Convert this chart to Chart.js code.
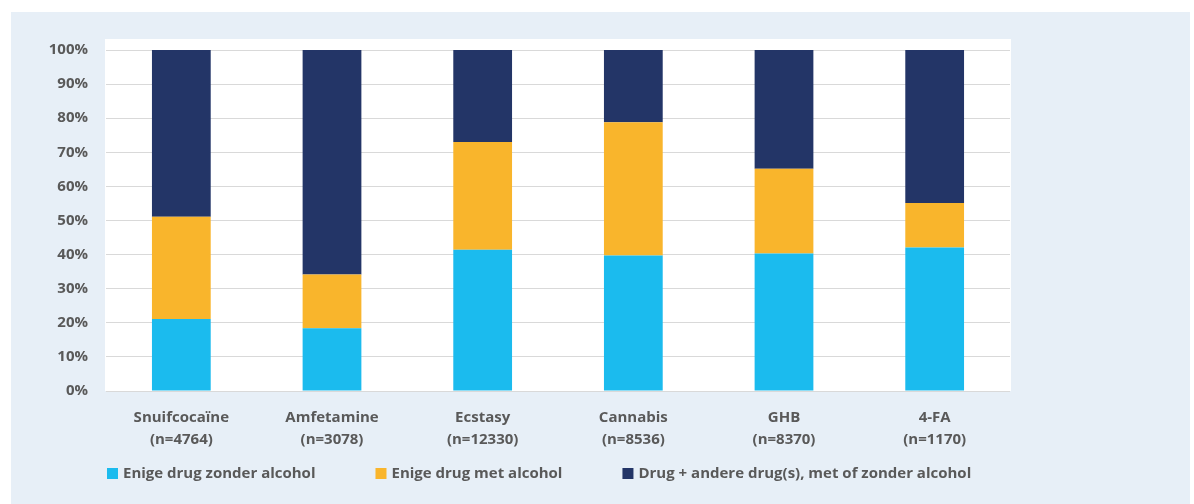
<!DOCTYPE html>
<html>
<head>
<meta charset="utf-8">
<script src="https://cdn.jsdelivr.net/npm/chart.js@4"></script>
<style>
  html, body { margin: 0; padding: 0; background: #fff; }
  #wrap { width: 1194px; height: 504px; }
</style>
</head>
<body>
<div id="wrap"><canvas id="drugChart" width="1194" height="504"></canvas></div>
<script>
var categories = [
    ['Snuifcocaïne', '(n=4764)'],
    ['Amfetamine', '(n=3078)'],
    ['Ecstasy', '(n=12330)'],
    ['Cannabis', '(n=8536)'],
    ['GHB', '(n=8370)'],
    ['4-FA', '(n=1170)']
];
var seriesNames = [
    'Enige drug zonder alcohol',
    'Enige drug met alcohol',
    'Drug + andere drug(s), met of zonder alcohol'
];
var zonderAlcohol = [21.1, 18.4, 41.4, 39.7, 40.3, 42.1];
var metAlcohol    = [30.0, 15.8, 31.6, 39.1, 24.9, 13.0];
var andereDrugs   = [48.9, 65.8, 27.0, 21.2, 34.8, 44.9];
var yTicks = [0, 10, 20, 30, 40, 50, 60, 70, 80, 90, 100];

var colors = ['#1bbbee', '#f9b52c', '#233567'];
var textColor = '#595959';
var fontFamily = '"Open Sans", Lato, sans-serif';

// panel background and white plot box
var panelPlugin = {
    id: 'panel',
    beforeDraw: function (chart) {
        var ctx = chart.ctx;
        var a = chart.chartArea;
        ctx.save();
        ctx.fillStyle = '#ffffff';
        ctx.fillRect(0, 0, chart.width, chart.height);
        ctx.fillStyle = '#e7eff7';
        ctx.fillRect(11, 12, 1179, chart.height - 12);
        ctx.fillStyle = '#ffffff';
        ctx.fillRect(a.left - 1, a.top - 11, a.right - a.left + 2, a.bottom - a.top + 11);
        ctx.restore();
    }
};

// legend row under the axis labels
var legendPlugin = {
    id: 'rowLegend',
    afterDraw: function (chart) {
        var ctx = chart.ctx;
        var x = chart.chartArea.left + 1;
        var y = 474;
        ctx.save();
        ctx.font = 'bold 15px ' + fontFamily;
        ctx.textBaseline = 'middle';
        ctx.textAlign = 'left';
        chart.data.datasets.forEach(function (ds) {
            ctx.fillStyle = ds.backgroundColor;
            ctx.fillRect(x, y - 6, 11, 11);
            ctx.fillStyle = textColor;
            ctx.fillText(ds.label, x + 16, y);
            x += 16 + ctx.measureText(ds.label).width + 60;
        });
        ctx.restore();
    }
};

var ctx = document.getElementById('drugChart').getContext('2d');
var myChart = new Chart(ctx, {
    type: 'bar',
    data: {
        labels: categories,
        datasets: [
            { label: seriesNames[0], data: zonderAlcohol, backgroundColor: colors[0] },
            { label: seriesNames[1], data: metAlcohol, backgroundColor: colors[1] },
            { label: seriesNames[2], data: andereDrugs, backgroundColor: colors[2] }
        ]
    },
    options: {
        responsive: false,
        animation: false,
        layout: { padding: { left: 11, top: 50, right: 184, bottom: 53 } },
        datasets: {
            bar: { categoryPercentage: 1, barPercentage: 0.39, borderWidth: 0 }
        },
        plugins: {
            legend: { display: false },
            tooltip: { enabled: false }
        },
        scales: {
            x: {
                stacked: true,
                grid: { display: false },
                border: { display: false },
                ticks: {
                    color: textColor,
                    padding: 8,
                    maxRotation: 0,
                    font: { family: fontFamily, size: 15, weight: 'bold', lineHeight: 1.45 }
                },
                afterFit: function (scale) { scale.height = 60; }
            },
            y: {
                stacked: true,
                min: 0,
                max: 100,
                afterBuildTicks: function (scale) {
                    scale.ticks = yTicks.map(function (v) { return { value: v }; });
                },
                grid: { color: '#d9d9d9', lineWidth: 1, drawTicks: false },
                border: { display: false },
                ticks: {
                    color: textColor,
                    padding: 18,
                    font: { family: fontFamily, size: 15, weight: 'bold' },
                    callback: function (v) { return v + '%'; }
                },
                afterFit: function (scale) { scale.width = 95; }
            }
        }
    },
    plugins: [panelPlugin, legendPlugin]
});
</script>
</body>
</html>
